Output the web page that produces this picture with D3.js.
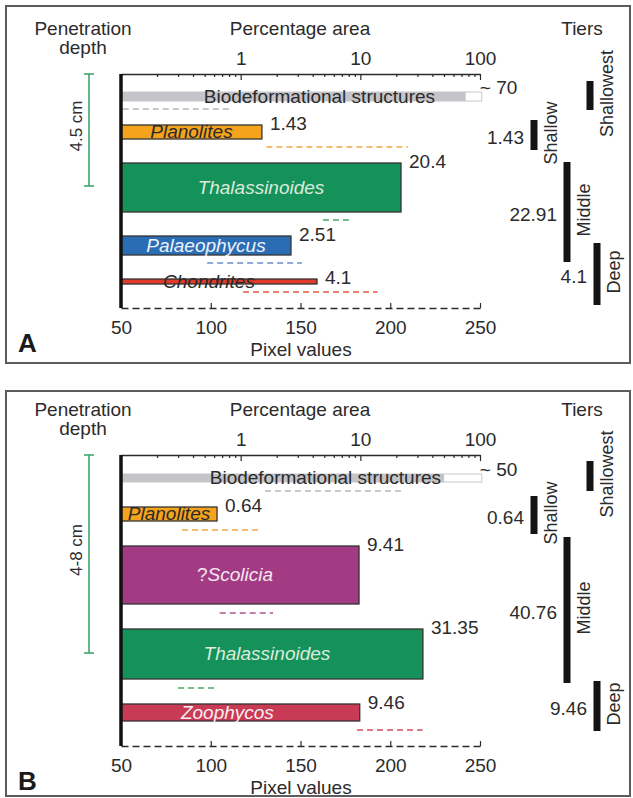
<!DOCTYPE html>
<html>
<head>
<meta charset="utf-8">
<script src="https://cdn.jsdelivr.net/npm/d3@7/dist/d3.min.js"></script>
<style>
body { margin: 0; background: #fff; }
svg { display: block; font-family: "Liberation Sans", Arial, sans-serif; }
</style>
</head>
<body>
<svg width="633" height="798"></svg>
<script>
// Panel A values (pixel values on the bottom scale, % area as labels)
var tracesA = ["Biodeformational structures", "Planolites", "Thalassinoides", "Palaeophycus", "Chondrites"];
var pixelA = [242, 128.5, 206, 144.7, 159.2];
var spreadLowA = [51, 131, 162.5, 98, 118];
var spreadHighA = [110.7, 210, 178.7, 150.8, 193];
var areaA = ["~ 70", "1.43", "20.4", "2.51", "4.1"];
var tierAreaA = ["", "1.43", "22.91", "4.1"];
var depthA = "4.5 cm";

// Panel B values
var tracesB = ["Biodeformational structures", "Planolites", "?Scolicia", "Thalassinoides", "Zoophycos"];
var pixelB = [230, 103.5, 182.6, 218.2, 183];
var spreadLowB = [130.2, 84, 105, 81.8, 181.5];
var spreadHighB = [208.2, 128.5, 134.7, 104, 218];
var areaB = ["~ 50", "0.64", "9.41", "31.35", "9.46"];
var tierAreaB = ["", "0.64", "40.76", "9.46"];
var depthB = "4-8 cm";

var tierNames = ["Shallowest", "Shallow", "Middle", "Deep"];
var pixelTicks = [50, 100, 150, 200, 250];
var areaTicks = [1, 10, 100];
var areaDomain = [0.1, 100];
var pixelDomain = [50, 250];
var bioMax = 251;

// styles
var fills = {
    "Biodeformational structures": "#c4c4c9",
    "Planolites": "#f5a31c",
    "Thalassinoides": "#15925a",
    "Palaeophycus": "#2b6db5",
    "Chondrites": "#e23a2a",
    "?Scolicia": "#a23b84",
    "Zoophycos": "#c93a55"
};
var dashColors = {
    "Biodeformational structures": "#b4b6c0",
    "Planolites": "#f0a640",
    "Thalassinoides": "#45a865",
    "Palaeophycus": "#6b8fc8",
    "Chondrites": "#e8553f",
    "?Scolicia": "#b0558f",
    "Zoophycos": "#d34b5e"
};
var labelColors = {
    "Biodeformational structures": "#2a2a2a",
    "Planolites": "#2a2a2a",
    "Thalassinoides": "#dcebdc",
    "Palaeophycus": "#eef3fb",
    "Chondrites": "#2a2a2a",
    "?Scolicia": "#f6e6f1",
    "Zoophycos": "#f8eef0"
};
var ink = "#2b2b2b";
var fs = 19;

var svg = d3.select("svg");

var x = d3.scaleLinear().domain(pixelDomain).range([121, 480]);
var xLog = d3.scaleLog().domain(areaDomain).range([121, 480]);

drawPanel({
    letter: "A", top: 6, bottom: 363, axisTop: 74, firstGap: 18, dashGap: 8, nextGap: 16,
    thick: [9, 14, 49, 19, 5], shift: [18, 0, 0, 0, -10],
    traces: tracesA, pixel: pixelA, lo: spreadLowA, hi: spreadHighA, area: areaA,
    tierArea: tierAreaA, depth: depthA, depthSpan: [74, 186],
    tierX: [590, 534, 567, 597], tierY: [[81, 110], [120, 150], [162, 262], [243, 305]]
});
drawPanel({
    letter: "B", top: 391, bottom: 796, axisTop: 455, firstGap: 19, dashGap: 9, nextGap: 16,
    thick: [8, 14, 58, 50, 17], shift: [24, 0, -5, -5, -13],
    traces: tracesB, pixel: pixelB, lo: spreadLowB, hi: spreadHighB, area: areaB,
    tierArea: tierAreaB, depth: depthB, depthSpan: [455, 653],
    tierX: [590, 534, 567, 597], tierY: [[461, 491], [496, 534], [537, 683], [681, 731]]
});

function drawPanel(cfg) {
    var g = svg.append("g");

    g.append("rect")
        .attr("x", 6).attr("y", cfg.top)
        .attr("width", 624).attr("height", cfg.bottom - cfg.top)
        .attr("fill", "#fff").attr("stroke", "#5c5c5c").attr("stroke-width", 2);

    // row layout: bar, then its dashed spread line below
    var rows = [], y = cfg.axisTop + cfg.firstGap;
    cfg.traces.forEach(function(name, i) {
        var h = cfg.thick[i];
        rows.push({ name: name, value: cfg.pixel[i], lo: cfg.lo[i], hi: cfg.hi[i],
                    area: cfg.area[i], top: y, h: h, dash: y + h + cfg.dashGap, shift: cfg.shift[i], bio: i === 0 });
        y += h + cfg.dashGap + cfg.nextGap;
    });
    var axisBottomY = rows[rows.length - 1].dash + 16;

    // titles
    var head = cfg.axisTop - 39;
    g.append("text").attr("x", 83).attr("y", head).attr("text-anchor", "middle")
        .attr("font-size", fs).attr("fill", ink).text("Penetration");
    g.append("text").attr("x", 83).attr("y", head + 19).attr("text-anchor", "middle")
        .attr("font-size", fs).attr("fill", ink).text("depth");
    g.append("text").attr("x", 300).attr("y", head).attr("text-anchor", "middle")
        .attr("font-size", fs).attr("fill", ink).text("Percentage area");
    g.append("text").attr("x", 582).attr("y", head).attr("text-anchor", "middle")
        .attr("font-size", fs).attr("fill", ink).text("Tiers");

    // top log axis (percentage area)
    var top = g.append("g")
        .attr("transform", "translate(0," + cfg.axisTop + ")")
        .call(d3.axisTop(xLog)
            .tickValues(xLog.ticks())
            .tickFormat(function(d) { return areaTicks.indexOf(d) >= 0 ? d : ""; })
            .tickSize(-3).tickSizeOuter(0).tickPadding(9));
    top.attr("font-size", fs).attr("font-family", null);
    top.select(".domain").attr("stroke", ink).attr("stroke-width", 1.5);
    top.selectAll(".tick line").attr("stroke", ink).attr("stroke-width", 1.2)
        .filter(function(d) { return areaTicks.indexOf(d) >= 0; }).attr("y2", 6);
    top.selectAll(".tick text").attr("fill", ink);

    // bottom pixel axis, dashed
    var bot = g.append("g")
        .attr("transform", "translate(0," + axisBottomY + ")")
        .call(d3.axisBottom(x).tickValues(pixelTicks).tickSize(-5).tickSizeOuter(0).tickPadding(13));
    bot.attr("font-size", fs).attr("font-family", null);
    bot.select(".domain").attr("stroke", ink).attr("stroke-width", 1.5).attr("stroke-dasharray", "7,4");
    bot.selectAll(".tick line").attr("stroke", ink).attr("stroke-width", 1.2);
    bot.selectAll(".tick text").attr("fill", ink);
    g.append("text").attr("x", 301).attr("y", axisBottomY + 48).attr("text-anchor", "middle")
        .attr("font-size", fs).attr("fill", ink).text("Pixel values");

    // panel letter
    g.append("text").attr("x", 18).attr("y", axisBottomY + 44)
        .attr("font-size", 26).attr("font-weight", "bold").attr("fill", "#1a1a1a").text(cfg.letter);

    // dashed spread lines
    g.selectAll(".spread").data(rows).enter().append("line")
        .attr("x1", function(d) { return x(d.lo); })
        .attr("x2", function(d) { return x(d.hi); })
        .attr("y1", function(d) { return d.dash; })
        .attr("y2", function(d) { return d.dash; })
        .attr("stroke", function(d) { return dashColors[d.name]; })
        .attr("stroke-width", 1.6).attr("stroke-dasharray", "6,4");

    // biodeformational outline to max
    rows.filter(function(d) { return d.bio; }).forEach(function(d) {
        g.append("rect").attr("x", x(50)).attr("y", d.top)
            .attr("width", x(bioMax) - x(50)).attr("height", d.h)
            .attr("fill", "#fff").attr("stroke", "#c8c8cc").attr("stroke-width", 1);
    });

    g.selectAll(".bar").data(rows).enter().append("rect")
        .attr("x", x(50))
        .attr("y", function(d) { return d.top; })
        .attr("width", function(d) { return x(d.value) - x(50); })
        .attr("height", function(d) { return d.h; })
        .attr("fill", function(d) { return fills[d.name]; })
        .attr("stroke", function(d) { return d.bio ? "none" : "#333"; })
        .attr("stroke-width", 1.3);

    // names inside bars
    var names = g.selectAll(".name").data(rows).enter().append("text")
        .attr("x", function(d) { return (x(50) + x(d.bio ? bioMax : d.value)) / 2 + d.shift; })
        .attr("y", function(d) { return d.top + d.h / 2 + 6; })
        .attr("text-anchor", "middle")
        .attr("font-size", fs)
        .attr("fill", function(d) { return labelColors[d.name]; });
    names.each(function(d) {
        var t = d3.select(this);
        if (d.bio) { t.text(d.name); return; }
        if (d.name.charAt(0) === "?") {
            t.append("tspan").text("?");
            t.append("tspan").attr("font-style", "italic").text(d.name.slice(1));
        } else {
            t.attr("font-style", "italic").text(d.name);
        }
    });

    // % area values
    g.selectAll(".val").data(rows).enter().append("text")
        .attr("x", function(d) { return d.bio ? x(bioMax) - 2 : x(d.value) + 8; })
        .attr("y", function(d) { return d.bio ? d.top + 2 : d.top + 5; })
        .attr("font-size", fs).attr("fill", ink)
        .text(function(d) { return d.area; });

    // left axis
    g.append("line").attr("x1", 121).attr("x2", 121)
        .attr("y1", cfg.axisTop).attr("y2", axisBottomY)
        .attr("stroke", "#111").attr("stroke-width", 3.5);

    // penetration depth bracket
    var dep = g.append("g").attr("stroke", "#3fa56c").attr("stroke-width", 1.6);
    dep.append("line").attr("x1", 89).attr("x2", 89).attr("y1", cfg.depthSpan[0]).attr("y2", cfg.depthSpan[1]);
    cfg.depthSpan.forEach(function(v) {
        dep.append("line").attr("x1", 84).attr("x2", 94).attr("y1", v).attr("y2", v);
    });
    var dc = (cfg.depthSpan[0] + cfg.depthSpan[1]) / 2 - 4;
    g.append("text").attr("transform", "translate(82," + dc + ") rotate(-90)")
        .attr("text-anchor", "middle").attr("font-size", 17).attr("fill", ink).text(cfg.depth);

    // tiers
    tierNames.forEach(function(name, i) {
        var tx = cfg.tierX[i], ty = cfg.tierY[i], cy = (ty[0] + ty[1]) / 2;
        g.append("rect").attr("x", tx - 3.5).attr("y", ty[0])
            .attr("width", 7).attr("height", ty[1] - ty[0]).attr("fill", "#141414");
        g.append("text").attr("transform", "translate(" + (tx + 23) + "," + (cy - 2) + ") rotate(-90)")
            .attr("text-anchor", "middle").attr("font-size", 18).attr("fill", ink).text(name);
        if (cfg.tierArea[i]) {
            g.append("text").attr("x", tx - 10).attr("y", cy + 2)
                .attr("text-anchor", "end").attr("dy", "0.35em")
                .attr("font-size", fs).attr("fill", ink).text(cfg.tierArea[i]);
        }
    });
}
</script>
</body>
</html>
